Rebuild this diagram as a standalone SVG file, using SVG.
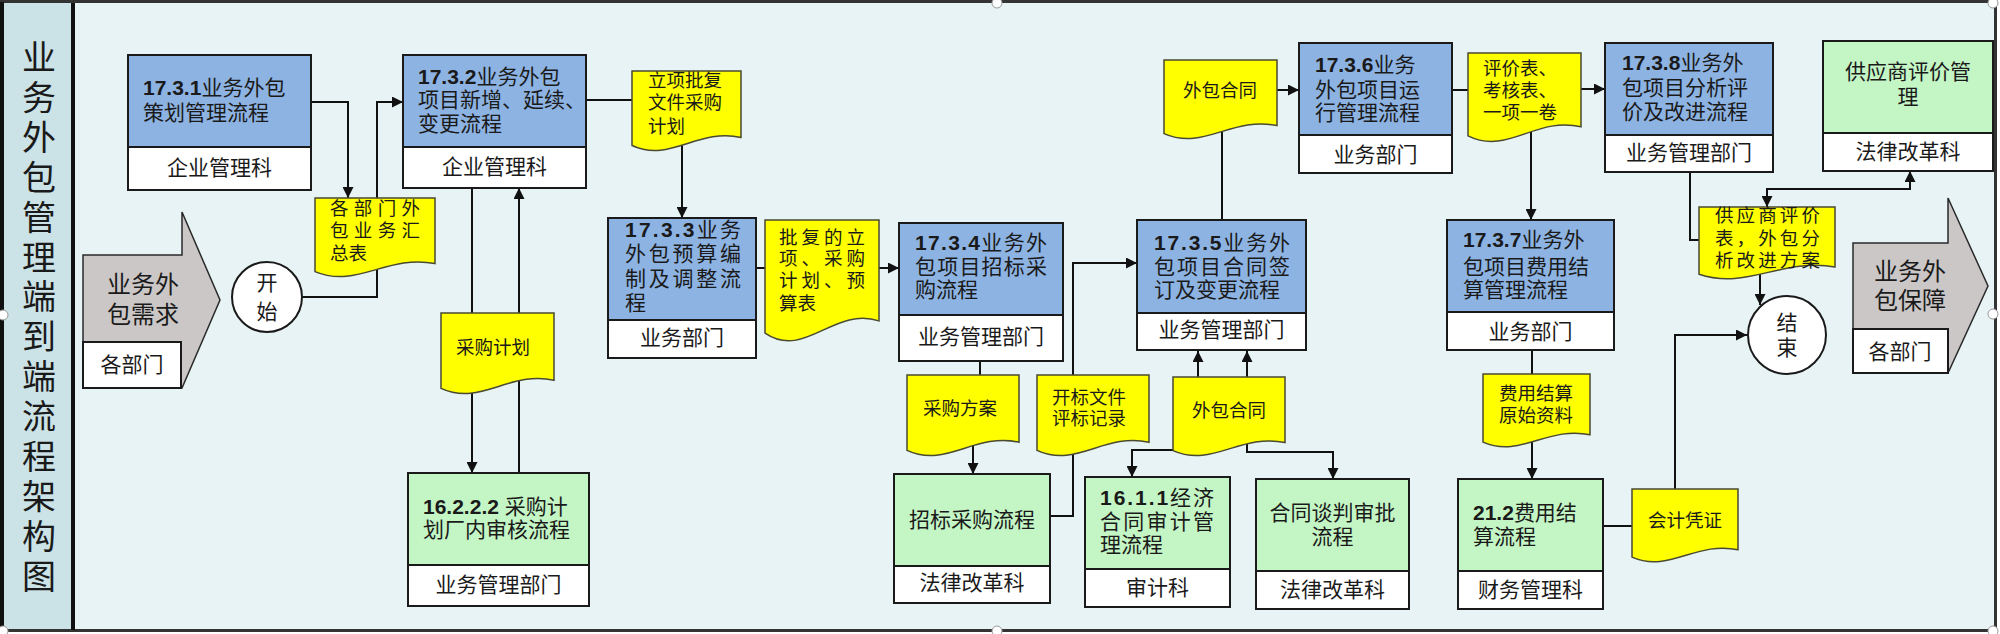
<svg xmlns="http://www.w3.org/2000/svg" width="2000" height="634" viewBox="0 0 2000 634">
<style>
text{font-family:"Liberation Sans","Noto Sans CJK SC",sans-serif;fill:#1a1a1a}
.t{font-size:21px}
.d{font-size:18.5px}
.lab{font-size:21px;text-anchor:middle}
.m{text-anchor:middle}
.b{font-weight:bold}
.blue{fill:#8db3e2;stroke:#1a1a1a;stroke-width:2}
.green{fill:#c4f5c4;stroke:#1a1a1a;stroke-width:2}
.white{fill:#ffffff;stroke:#1a1a1a;stroke-width:2}
.doc{fill:#ffff00;stroke:#4a4a30;stroke-width:1.5}
.grey{fill:#cbc7c7;stroke:#2a2a2a;stroke-width:1.5}
.c{fill:none;stroke:#111;stroke-width:2}
.a{marker-end:url(#ah)}
.aa{marker-start:url(#ah);marker-end:url(#ah)}
.h{fill:#fff;stroke:#999;stroke-width:1}
</style>
<defs>
<marker id="ah" viewBox="0 0 10 10" refX="10" refY="5" markerWidth="11" markerHeight="11" markerUnits="userSpaceOnUse" orient="auto-start-reverse"><path d="M0,0 L10,5 L0,10 z" fill="#111"/></marker>
</defs>
<g id="frame">
<rect x="1.5" y="1.5" width="1994" height="629" fill="#e7f3f4" stroke="#333" stroke-width="3"/>
<rect x="3" y="3" width="69" height="626" fill="#cbe2e6"/>
<line x1="2" y1="2" x2="2" y2="631" stroke="#111" stroke-width="4"/>
<line x1="73" y1="3" x2="73" y2="630" stroke="#111" stroke-width="4"/>
</g>
<g id="title">
<text x="39" y="70" style="font-size:34px" class="m"><tspan x="39">业</tspan><tspan x="39" dy="39.9">务</tspan><tspan x="39" dy="39.9">外</tspan><tspan x="39" dy="39.9">包</tspan><tspan x="39" dy="39.9">管</tspan><tspan x="39" dy="39.9">理</tspan><tspan x="39" dy="39.9">端</tspan><tspan x="39" dy="39.9">到</tspan><tspan x="39" dy="39.9">端</tspan><tspan x="39" dy="39.9">流</tspan><tspan x="39" dy="39.9">程</tspan><tspan x="39" dy="39.9">架</tspan><tspan x="39" dy="39.9">构</tspan><tspan x="39" dy="39.9">图</tspan></text>
</g>
<g id="connectors">
<path class="c a" d="M311,102 H348 V198"/>
<path class="c a" d="M302,297 H377 V102 H403"/>
<path class="c" d="M586,100 H632"/>
<path class="c a" d="M682,140 V218"/>
<path class="c a" d="M472,188 V473"/>
<path class="c a" d="M519,473 V188"/>
<path class="c" d="M756,268 H765"/>
<path class="c a" d="M879,268 H899"/>
<path class="c" d="M980,361 V380"/>
<path class="c a" d="M973,445 V474"/>
<path class="c a" d="M1050,516 H1073 V263 H1137"/>
<path class="c" d="M1222,220 V125"/>
<path class="c a" d="M1277,90 H1299"/>
<path class="c" d="M1452,90 H1468"/>
<path class="c a" d="M1581,89 H1605"/>
<path class="c a" d="M1531,125 V220"/>
<path class="c" d="M1532,350 V380"/>
<path class="c a" d="M1532,440 V479"/>
<path class="c" d="M1603,526 H1632"/>
<path class="c a" d="M1675,495 V335 H1747"/>
<path class="c" d="M1690,172 V240 H1699"/>
<path class="c aa" d="M1767,207 V189 H1910 V171"/>
<path class="c a" d="M1760,260 V305"/>
<path class="c aa" d="M1132,477 V450 H1198 V351"/>
<path class="c aa" d="M1333,479 V452 H1247 V351"/>
</g>
<g id="in">
<polygon class="grey" points="83,255 182,255 182,212 220,300 182,388 83,388"/>
<rect class="white" x="83" y="342" width="98" height="46"/>
<text x="143" y="293" class="m" style="font-size:24px"><tspan x="143">业务外</tspan><tspan x="143" dy="30">包需求</tspan></text>
<text x="132" y="372" class="lab">各部门</text>
</g>
<g id="start">
<circle cx="267" cy="297" r="35" fill="#fff" stroke="#1a1a1a" stroke-width="2"/>
<text x="267" y="290" class="lab"><tspan x="267">开</tspan><tspan x="267" dy="29">始</tspan></text>
</g>
<g id="n1731">
<rect class="blue" x="128" y="55" width="183" height="92"/>
<rect class="white" x="128" y="147" width="183" height="43"/>
<text class="t" x="143" y="95"><tspan class="b">17.3.1</tspan>业务外包</text>
<text class="t" x="143" y="120">策划管理流程</text>
<text class="lab" x="219.5" y="175">企业管理科</text>
</g>
<g id="n1732">
<rect class="blue" x="403" y="55" width="183" height="92"/>
<rect class="white" x="403" y="147" width="183" height="41"/>
<text class="t" x="418" y="84"><tspan class="b">17.3.2</tspan>业务外包</text>
<text class="t" x="418" y="107">项目新增、延续、</text>
<text class="t" x="418" y="131">变更流程</text>
<text class="lab" x="494.5" y="174">企业管理科</text>
</g>
<g id="n1733">
<rect class="blue" x="608" y="218" width="148" height="102"/>
<rect class="white" x="608" y="320" width="148" height="38"/>
<text class="t" x="625" y="237" textLength="116"><tspan class="b">17.3.3</tspan>业务</text>
<text class="t" x="625" y="261" textLength="116">外包预算编</text>
<text class="t" x="625" y="286" textLength="116">制及调整流</text>
<text class="t" x="625" y="310">程</text>
<text class="lab" x="682" y="345">业务部门</text>
</g>
<g id="n16222">
<rect class="green" x="408" y="473" width="181" height="92"/>
<rect class="white" x="408" y="565" width="181" height="41"/>
<text class="t" x="423" y="514"><tspan class="b">16.2.2.2 </tspan>采购计</text>
<text class="t" x="423" y="537">划厂内审核流程</text>
<text class="lab" x="498.5" y="592">业务管理部门</text>
</g>
<g id="n1734">
<rect class="blue" x="899" y="223" width="164" height="92"/>
<rect class="white" x="899" y="315" width="164" height="46"/>
<text class="t" x="915" y="250" textLength="132"><tspan class="b">17.3.4</tspan>业务外</text>
<text class="t" x="915" y="274" textLength="132">包项目招标采</text>
<text class="t" x="915" y="297">购流程</text>
<text class="lab" x="981" y="344">业务管理部门</text>
</g>
<g id="nbid">
<rect class="green" x="894" y="474" width="156" height="92"/>
<rect class="white" x="894" y="566" width="156" height="37"/>
<text class="lab" x="972" y="527">招标采购流程</text>
<text class="lab" x="972" y="590">法律改革科</text>
</g>
<g id="n1735">
<rect class="blue" x="1137" y="220" width="169" height="93"/>
<rect class="white" x="1137" y="313" width="169" height="37"/>
<text class="t" x="1154" y="250" textLength="136"><tspan class="b">17.3.5</tspan>业务外</text>
<text class="t" x="1154" y="274" textLength="136">包项目合同签</text>
<text class="t" x="1154" y="297">订及变更流程</text>
<text class="lab" x="1221.5" y="337">业务管理部门</text>
</g>
<g id="n1611">
<rect class="green" x="1085" y="477" width="145" height="92"/>
<rect class="white" x="1085" y="569" width="145" height="38"/>
<text class="t" x="1100" y="505" textLength="114"><tspan class="b">16.1.1</tspan>经济</text>
<text class="t" x="1100" y="529" textLength="114">合同审计管</text>
<text class="t" x="1100" y="552">理流程</text>
<text class="lab" x="1157.5" y="595">审计科</text>
</g>
<g id="nneg">
<rect class="green" x="1256" y="479" width="153" height="92"/>
<rect class="white" x="1256" y="571" width="153" height="38"/>
<text class="lab" x="1332.5" y="520">合同谈判审批</text>
<text class="lab" x="1332.5" y="544">流程</text>
<text class="lab" x="1332.5" y="597">法律改革科</text>
</g>
<g id="n1736">
<rect class="blue" x="1299" y="43" width="153" height="92"/>
<rect class="white" x="1299" y="135" width="153" height="38"/>
<text class="t" x="1315" y="72"><tspan class="b">17.3.6</tspan>业务</text>
<text class="t" x="1315" y="97">外包项目运</text>
<text class="t" x="1315" y="120">行管理流程</text>
<text class="lab" x="1375.5" y="162">业务部门</text>
</g>
<g id="n1737">
<rect class="blue" x="1447" y="220" width="167" height="92"/>
<rect class="white" x="1447" y="312" width="167" height="38"/>
<text class="t" x="1463" y="247"><tspan class="b">17.3.7</tspan>业务外</text>
<text class="t" x="1463" y="274">包项目费用结</text>
<text class="t" x="1463" y="297">算管理流程</text>
<text class="lab" x="1530.5" y="339">业务部门</text>
</g>
<g id="n212">
<rect class="green" x="1458" y="479" width="145" height="92"/>
<rect class="white" x="1458" y="571" width="145" height="38"/>
<text class="t" x="1473" y="520"><tspan class="b">21.2</tspan>费用结</text>
<text class="t" x="1473" y="544">算流程</text>
<text class="lab" x="1530.5" y="597">财务管理科</text>
</g>
<g id="n1738">
<rect class="blue" x="1605" y="43" width="168" height="92"/>
<rect class="white" x="1605" y="135" width="168" height="37"/>
<text class="t" x="1622" y="70"><tspan class="b">17.3.8</tspan>业务外</text>
<text class="t" x="1622" y="95">包项目分析评</text>
<text class="t" x="1622" y="119">价及改进流程</text>
<text class="lab" x="1689" y="160">业务管理部门</text>
</g>
<g id="nsup">
<rect class="green" x="1823" y="41" width="170" height="92"/>
<rect class="white" x="1823" y="133" width="170" height="38"/>
<text class="lab" x="1908" y="79">供应商评价管</text>
<text class="lab" x="1908" y="104">理</text>
<text class="lab" x="1908" y="159">法律改革科</text>
</g>
<g id="end">
<circle cx="1787" cy="335" r="39" fill="#fff" stroke="#1a1a1a" stroke-width="2"/>
<text x="1787" y="330" class="lab"><tspan x="1787">结</tspan><tspan x="1787" dy="25">束</tspan></text>
</g>
<g id="out">
<polygon class="grey" points="1853,243 1948,243 1948,198 1988,286 1948,373 1853,373"/>
<rect class="white" x="1853" y="329" width="95" height="44"/>
<text x="1910" y="280" class="m" style="font-size:24px"><tspan x="1910">业务外</tspan><tspan x="1910" dy="29">包保障</tspan></text>
<text x="1900" y="359" class="lab">各部门</text>
</g>
<g id="d1">
<path class="doc" d="M315,198 H435 V263.6 C387,254 357,289.2 315,271.6 Z"/>
<text class="d" x="330" y="215" textLength="90">各部门外</text>
<text class="d" x="330" y="237" textLength="90">包业务汇</text>
<text class="d" x="330" y="260">总表</text>
</g>
<g id="d2">
<path class="doc" d="M632,71 H741 V137.4 C697.4,127.7 670.2,163.3 632,145.5 Z"/>
<text class="d" x="648" y="87">立项批复</text>
<text class="d" x="648" y="109">文件采购</text>
<text class="d" x="648" y="133">计划</text>
</g>
<g id="d3">
<path class="doc" d="M441,313 H554 V380.2 C508.8,370.4 480.6,406.5 441,388.4 Z"/>
<text class="d m" x="493" y="354">采购计划</text>
</g>
<g id="d4">
<path class="doc" d="M765,220 H879 V320.9 C833.4,306.1 804.9,360.2 765,333.2 Z"/>
<text class="d" x="779" y="244" textLength="86">批复的立</text>
<text class="d" x="779" y="265" textLength="86">项、采购</text>
<text class="d" x="779" y="287" textLength="86">计划、预</text>
<text class="d" x="779" y="310">算表</text>
</g>
<g id="d5">
<path class="doc" d="M907,375 H1019 V442.2 C974.2,432.4 946.2,468.5 907,450.4 Z"/>
<text class="d m" x="960" y="415">采购方案</text>
</g>
<g id="d6">
<path class="doc" d="M1037,375 H1149 V442.2 C1104.2,432.4 1076.2,468.5 1037,450.4 Z"/>
<text class="d m" x="1089" y="404">开标文件</text>
<text class="d m" x="1089" y="425">评标记录</text>
</g>
<g id="d7">
<path class="doc" d="M1164,60 H1277 V125.6 C1231.8,116 1203.6,151.2 1164,133.6 Z"/>
<text class="d m" x="1220" y="97">外包合同</text>
</g>
<g id="d8">
<path class="doc" d="M1173,377 H1285 V442.6 C1240.2,433 1212.2,468.2 1173,450.6 Z"/>
<text class="d m" x="1229" y="417">外包合同</text>
</g>
<g id="d9">
<path class="doc" d="M1468,53 H1581 V126.8 C1535.8,116 1507.6,155.6 1468,135.8 Z"/>
<text class="d" x="1483" y="75">评价表、</text>
<text class="d" x="1483" y="97">考核表、</text>
<text class="d" x="1483" y="119">一项一卷</text>
</g>
<g id="d10">
<path class="doc" d="M1483,374 H1590 V434.7 C1547.2,425.8 1520.5,458.4 1483,442.1 Z"/>
<text class="d m" x="1536" y="400">费用结算</text>
<text class="d m" x="1536" y="422">原始资料</text>
</g>
<g id="d11">
<path class="doc" d="M1632,489 H1738 V549.7 C1695.6,540.8 1669.1,573.4 1632,557.1 Z"/>
<text class="d m" x="1685" y="527">会计凭证</text>
</g>
<g id="d12">
<path class="doc" d="M1699,207 H1835 V266.9 C1780.6,258.1 1746.6,290.2 1699,274.2 Z"/>
<text class="d" x="1715" y="222" textLength="105">供应商评价</text>
<text class="d" x="1715" y="245" textLength="105">表，外包分</text>
<text class="d" x="1715" y="267" textLength="105">析改进方案</text>
</g>
<g id="handles">
<circle class="h" cx="3" cy="315" r="5"/>
<circle class="h" cx="997" cy="3" r="5"/>
<circle class="h" cx="997" cy="631" r="5"/>
<circle class="h" cx="1993" cy="3" r="5"/>
<circle class="h" cx="1993" cy="314" r="5"/>
<circle class="h" cx="1993" cy="631" r="5"/>
<circle class="h" cx="3" cy="631" r="5"/>
</g>
</svg>
